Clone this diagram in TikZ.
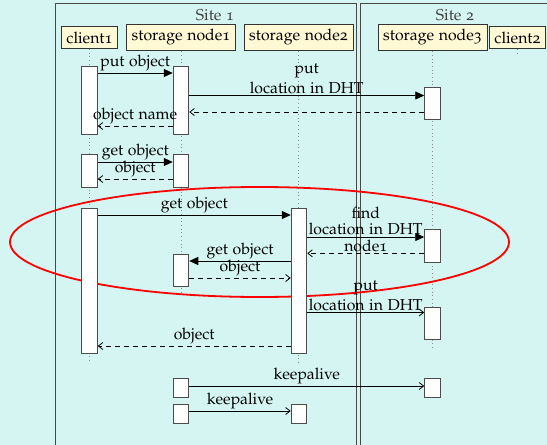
\documentclass[tikz,border=0pt]{standalone}
\usepackage[T1]{fontenc}
\usepackage[osf]{mathpazo}
\usetikzlibrary{arrows.meta}

\definecolor{bgcyan}{RGB}{212,245,241}
\definecolor{hdrfill}{RGB}{255,249,214}
\definecolor{framegray}{RGB}{72,72,72}

% activation bar: name, x, top y, bottom y
\newcommand\actbox[4]{\node[act, minimum height={#4-#3}] (#1) at (#2,{(#3+#4)/2}) {};}

\begin{document}
\begin{tikzpicture}[x=1pt,y=-1pt,
  font=\fontsize{15.8}{19.5}\selectfont,
  hdr/.style={draw=black!80, fill=hdrfill, line width=0.9pt, inner sep=5.2pt},
  act/.style={draw=black!70, fill=white, line width=1pt, minimum width=15.5pt, inner sep=0pt},
  life/.style={black!45, line width=0.7pt, dash pattern=on 0.7pt off 3pt},
  frame/.style={draw=framegray, line width=0.9pt},
  call/.style={line width=0.8pt, -{Triangle[length=9pt,width=8pt]}},
  cast/.style={line width=0.8pt, -{Straight Barb[length=4.5pt,width=7pt]}},
  ret/.style={line width=0.8pt, dash pattern=on 5pt off 4pt, -{Straight Barb[length=4.5pt,width=7pt]}},
  lbl/.style={above, inner sep=1.4pt, align=center},
  ring/.style={red, line width=1.8pt},
]
\useasboundingbox (0,0) rectangle (547,445);
\clip (0,0) rectangle (547,445);
\fill[bgcyan] (0,0) rectangle (547,445);

% sites
\draw[frame] (55.5,3.5) rectangle (356,470);
\draw[frame] (360.5,3.5) rectangle (580,470);
\node[text=black!75] (site1) at (215,15) {Site 1};
\node[text=black!75] (site2) at (455,15) {Site 2};

% participants
\node[hdr] (c1) at (89.5,37.5) {client1};
\node[hdr] (n1) at (181,37.5) {storage node1};
\node[hdr] (n2) at (298.5,37.5) {storage node2};
\node[hdr] (n3) at (432.5,37.5) {storage node3};
\node[hdr] (c2) at (517.5,37.5) {client2};

% lifelines
\coordinate (c1end) at (89.5,362);
\coordinate (n1end) at (181,292);
\coordinate (n2end) at (298.5,364);
\coordinate (n3end) at (432.5,349);
\coordinate (c2end) at (517.5,54);
\draw[life] (c1) -- (c1end);
\draw[life] (n1) -- (n1end);
\draw[life] (n2) -- (n2end);
\draw[life] (n3) -- (n3end);
\draw[life] (c2) -- (c2end);

% highlighted lookup
\draw[ring] (259.5,242) ellipse [x radius=249.5, y radius=55];

% activations
\actbox{c1a}{89.5}{66}{134}
\actbox{n1a}{181}{66}{134}
\actbox{n3a}{432.5}{87}{119}
\actbox{c1b}{89.5}{154}{187}
\actbox{n1b}{181}{154}{187}
\actbox{c1c}{89.5}{208}{353}
\actbox{n2a}{299}{208}{353}
\actbox{n1c}{181}{254}{286}
\actbox{n3b}{432.5}{229}{262}
\actbox{n3c}{432.5}{307}{339}
\actbox{n1d}{181}{378}{397}
\actbox{n3d}{432.5}{378}{397}
\actbox{n1e}{181}{404}{423}
\actbox{n2b}{299}{404}{423}

% put object
\draw[call] (c1a.east |- 0,73) -- node[lbl] {put object} (n1a.west |- 0,73);
\draw[call] (n1a.east |- 0,95.5) -- node[lbl] {put\\location in DHT} (n3a.west |- 0,95.5);
\draw[ret] (n3a.west |- 0,112) -- (n1a.east |- 0,112);
\draw[ret] (n1a.west |- 0,126) -- node[lbl] {object name} (c1a.east |- 0,126);

% get object, local
\draw[call] (c1b.east |- 0,162) -- node[lbl] {get object} (n1b.west |- 0,162);
\draw[ret] (n1b.west |- 0,179) -- node[lbl] {object} (c1b.east |- 0,179);

% get object, via another node
\draw[call] (c1c.east |- 0,215) -- node[lbl] {get object} (n2a.west |- 0,215);
\draw[call] (n2a.east |- 0,237) -- node[lbl, font=\fontsize{15.8}{16.7}\selectfont] {find\\location in DHT} (n3b.west |- 0,237);
\draw[ret] (n3b.west |- 0,253.3) -- node[lbl] {node1} (n2a.east |- 0,253.3);
\draw[call] (n2a.west |- 0,261) -- node[lbl] {get object} (n1c.east |- 0,261);
\draw[ret] (n1c.east |- 0,278) -- node[lbl] {object} (n2a.west |- 0,278);
\draw[cast] (n2a.east |- 0,312.5) -- node[lbl] {put\\location in DHT} (n3c.west |- 0,312.5);
\draw[ret] (n2a.west |- 0,346) -- node[lbl] {object} (c1c.east |- 0,346);

% keepalives
\draw[cast] (n1d.east |- 0,386) -- node[lbl] {keepalive} (n3d.west |- 0,386);
\draw[cast] (n1e.east |- 0,411) -- node[lbl] {keepalive} (n2b.west |- 0,411);
\end{tikzpicture}
\end{document}
